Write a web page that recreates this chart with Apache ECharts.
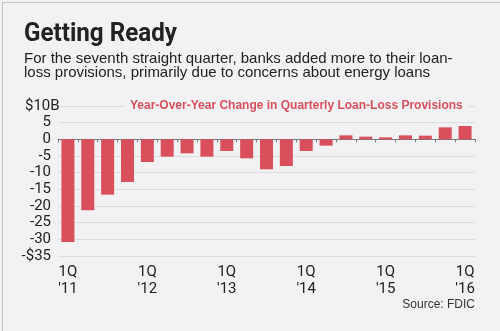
<!DOCTYPE html>
<html>
<head>
<meta charset="utf-8">
<script src="https://cdn.jsdelivr.net/npm/echarts@6/dist/echarts.min.js"></script>
<style>
html,body{margin:0;padding:0;background:#f2f2f4;}
#chart{width:500px;height:331px;}
</style>
</head>
<body>
<div id="chart"></div>
<script>
const quarters = ["1Q '11","2Q '11","3Q '11","4Q '11","1Q '12","2Q '12","3Q '12","4Q '12","1Q '13","2Q '13","3Q '13","4Q '13","1Q '14","2Q '14","3Q '14","4Q '14","1Q '15","2Q '15","3Q '15","4Q '15","1Q '16"];
const changes = [-30.8,-21.3,-16.6,-12.8,-6.8,-5.2,-4.2,-5.2,-3.5,-5.7,-9.0,-8.0,-3.5,-1.9,1.2,0.8,0.6,1.2,1.1,3.6,4.0];
const yTicks = {10:'{a|$10B}', '-35':'-$35'};
const titleText = 'Getting Ready';
const subtitleLines = ['For the seventh straight quarter, banks added more to their loan-','loss provisions, primarily due to concerns about energy loans'];
const seriesLabel = 'Year-Over-Year Change in Quarterly Loan-Loss Provisions';
const sourceText = 'Source: FDIC';

const COND = "'Roboto', 'Liberation Sans', sans-serif";
const SANS = "'Liberation Sans', Arial, sans-serif";

const chart = echarts.init(document.getElementById('chart'), null, {renderer:'canvas'});
chart.setOption({
  backgroundColor:'#f2f2f4',
  animation:false,
  grid:{left:58, right:25, top:106, bottom:75, containLabel:false},
  xAxis:[{
    type:'category', data:quarters,
    axisLine:{onZero:true, lineStyle:{color:'#7a7a7a', width:1}},
    axisTick:{show:true, interval:0, length:3, lineStyle:{color:'#7a7a7a'}},
    axisLabel:{show:false},
    splitLine:{show:false}
  },{
    type:'category', data:quarters, position:'bottom', offset:0,
    axisLine:{show:false, onZero:false}, axisTick:{show:false},
    axisLabel:{show:true, interval:0, margin:8, color:'#222', fontFamily:COND, fontSize:15, lineHeight:17,
      formatter:function(v){ return v.indexOf('1Q')===0 ? v.replace(' ','\n') : ''; }}
  }],
  yAxis:{
    type:'value', min:-35, max:10, interval:5,
    axisLine:{show:false}, axisTick:{show:false},
    axisLabel:{margin:7, color:'#222', fontFamily:COND, fontSize:15,
      rich:{a:{width:26, align:'left', color:'#222', fontFamily:COND, fontSize:15}},
      formatter:function(v){ return yTicks[v] !== undefined ? yTicks[v] : String(v); }},
    splitLine:{lineStyle:{color:'#dddde0', width:1}}
  },
  series:[{
    type:'bar', data:changes, xAxisIndex:0, barWidth:13,
    itemStyle:{color:'#d94f5c'}
  }],
  graphic:[
    {type:'rect', left:0, top:0, shape:{width:499, height:330}, style:{fill:'none', stroke:'#c4c4c6', lineWidth:1}, z:100, silent:true},
    {type:'text', x:24, y:21, scaleX:0.93, style:{text:titleText, font:"bold 26px "+COND, fill:'#222'}},
    {type:'text', left:24, top:51, style:{text:subtitleLines[0], font:"15px "+SANS, fill:'#222'}},
    {type:'text', left:24, top:65.5, style:{text:subtitleLines[1], font:"15px "+SANS, fill:'#222'}},
    {type:'text', left:124, top:98, z:50, style:{text:seriesLabel, font:"bold 12px "+SANS, fill:'#d94f5c', backgroundColor:'#f2f2f4', padding:[2,6,2,6]}},
    {type:'text', right:25, top:299, style:{text:sourceText, font:"12px "+SANS, fill:'#333'}}
  ]
});
</script>
</body>
</html>
